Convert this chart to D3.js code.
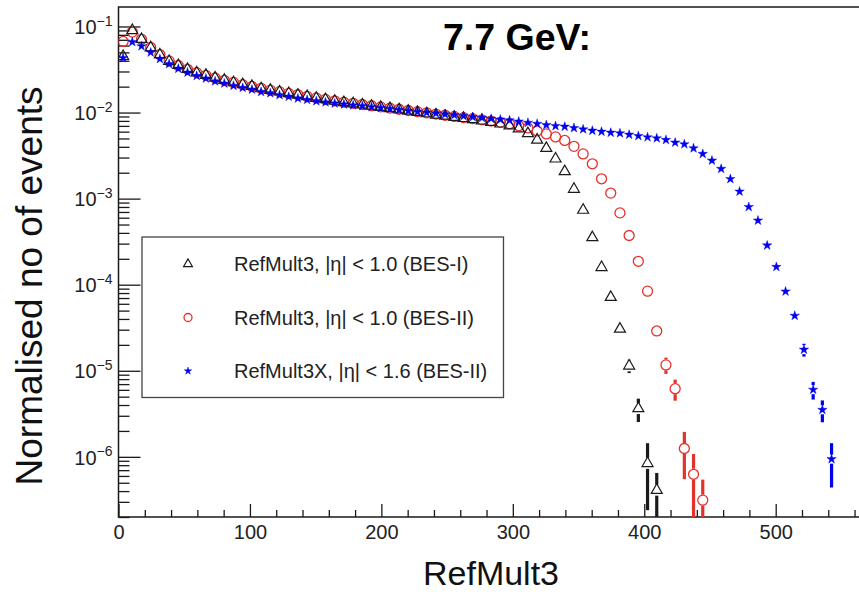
<!DOCTYPE html>
<html>
<head>
<meta charset="utf-8">
<script src="https://cdn.jsdelivr.net/npm/d3@7"></script>
<style>
  body { margin: 0; background: #fff; }
  svg { display: block; font-family: "Liberation Sans", Arial, Helvetica, sans-serif; }
</style>
</head>
<body>
<svg id="chart" width="859" height="592"></svg>
<script>
// RefMult3 distributions at 7.7 GeV, bins of width 7 starting at 0
const binWidth = 7;

// RefMult3, |eta| < 1.0 (BES-I)
const bes1Values = [
  0.045, 0.09, 0.071, 0.0568, 0.047, 0.0394, 0.0354, 0.0319, 0.029, 0.0272,
  0.0253, 0.0238, 0.0223, 0.0212, 0.0202, 0.019, 0.0182, 0.0174, 0.0167, 0.016,
  0.0154, 0.0147, 0.0142, 0.0136, 0.0131, 0.0127, 0.0123, 0.0119, 0.01154, 0.01119,
  0.01081, 0.01044, 0.01008, 0.00973, 0.0094, 0.00911, 0.00883, 0.00857, 0.0083, 0.00802,
  0.00773, 0.0074, 0.00702, 0.00648, 0.00572, 0.00481, 0.00385, 0.0029, 0.00207, 0.00129,
  0.000736, 0.000354, 0.000159, 7.16e-5, 3.06e-5, 1.14e-5, 3.64e-6, 8.4e-7, 4.1e-7
];
// RefMult3, |eta| < 1.0 (BES-II)
const bes2Values = [
  0.067, 0.086, 0.071, 0.057, 0.0472, 0.0398, 0.0352, 0.0318, 0.0291, 0.0271,
  0.0252, 0.0237, 0.0224, 0.0211, 0.0201, 0.0191, 0.0182, 0.0175, 0.0167, 0.0161,
  0.0154, 0.0148, 0.0142, 0.0137, 0.0132, 0.0128, 0.0124, 0.0120, 0.01164, 0.01127,
  0.01092, 0.01057, 0.01024, 0.00992, 0.00961, 0.00931, 0.00901, 0.00875, 0.0085, 0.00823,
  0.00797, 0.0077, 0.00742, 0.00702, 0.00662, 0.00611, 0.00564, 0.00521, 0.00474, 0.00405,
  0.00331, 0.00254, 0.0017, 0.00116, 0.000683, 0.000373, 0.000187, 8.41e-5, 2.9e-5, 1.17e-5,
  6.19e-6, 1.25e-6, 6.27e-7, 3.14e-7
];
// RefMult3X, |eta| < 1.6 (BES-II)
const bes2XValues = [
  0.043, 0.066, 0.059, 0.050, 0.042, 0.0366, 0.0324, 0.0292, 0.0267, 0.0249,
  0.0231, 0.0218, 0.0205, 0.0194, 0.0185, 0.0174, 0.0168, 0.016, 0.0153, 0.0146,
  0.01406, 0.01358, 0.01315, 0.01277, 0.01245, 0.01214, 0.01189, 0.01161, 0.01135, 0.01106,
  0.01076, 0.01049, 0.01021, 0.0100, 0.00979, 0.00955, 0.00935, 0.00912, 0.00888, 0.00869,
  0.00848, 0.0083, 0.00813, 0.00787, 0.00762, 0.0074, 0.00716, 0.00698, 0.00686, 0.00662,
  0.00639, 0.00616, 0.0060, 0.00584, 0.00575, 0.00554, 0.00535, 0.00517, 0.00503, 0.00481,
  0.00448, 0.00429, 0.00385, 0.00331, 0.00277, 0.00222, 0.00169, 0.00121, 0.0008, 0.000557,
  0.000286, 0.000161, 8.35e-5, 4.36e-5, 1.76e-5, 6.03e-6, 3.52e-6, 9.4e-7
];

// statistical errors of the low-count tail bins: [bin index, error]
const bes1Errors = [[54, 2.5e-6], [55, 2e-6], [56, 1.1e-6], [57, 6e-7], [58, 2.4e-7]];
const bes2Errors = [[59, 2.5e-6], [60, 1.7e-6], [61, 7e-7], [62, 4.5e-7], [63, 2.3e-7]];
const bes2XErrors = [[74, 3e-6], [75, 1.4e-6], [76, 1.0e-6], [77, 5e-7]];

const seriesNames = [
  "RefMult3, |\u03b7| < 1.0 (BES-I)",
  "RefMult3, |\u03b7| < 1.0 (BES-II)",
  "RefMult3X, |\u03b7| < 1.6 (BES-II)"
];
const xTickValues = [0, 100, 200, 300, 400, 500, 600];
const yTickExponents = [-6, -5, -4, -3, -2, -1];
const titleText = "7.7 GeV:";
const xTitle = "RefMult3";
const yTitle = "Normalised no of events";

const svg = d3.select("#chart");
const W = 859, H = 592;
const frame = { left: 118.5, top: 7, bottom: 517 };

const x = d3.scaleLinear().domain([0, 600]).range([frame.left, frame.left + 600 * 1.3144]);
const y = d3.scaleLog().domain([2.0e-7, 0.1684]).range([frame.bottom, frame.top]);

svg.append("rect").attr("width", W).attr("height", H).attr("fill", "#fff");

svg.append("defs").append("clipPath").attr("id", "plotClip")
  .append("rect")
  .attr("x", frame.left).attr("y", frame.top)
  .attr("width", W - frame.left).attr("height", frame.bottom - frame.top);

// ---- axes ----
const axisColor = "#1a1a1a";
const labelColor = "#222";

// x major ticks with labels
const gx = svg.append("g").attr("transform", `translate(0,${frame.bottom})`)
  .call(d3.axisBottom(x).tickValues(xTickValues).tickSize(-13).tickPadding(8).tickFormat(d3.format("d")));
// x minor ticks every 20
const xMinor = d3.range(20, 600, 20).filter(v => v % 100 !== 0);
const gxm = svg.append("g").attr("transform", `translate(0,${frame.bottom})`)
  .call(d3.axisBottom(x).tickValues(xMinor).tickSize(-7).tickFormat(""));

// y major ticks at decades
const yMajor = yTickExponents.map(e => Math.pow(10, e));
const gy = svg.append("g").attr("transform", `translate(${frame.left},0)`)
  .call(d3.axisLeft(y).tickValues(yMajor).tickSize(-22).tickPadding(6));
gy.selectAll(".tick text").each(function (d) {
  const t = d3.select(this);
  const e = Math.round(Math.log10(d));
  t.text(null).attr("dy", "0.36em");
  t.append("tspan").text("10");
  t.append("tspan").attr("dy", "-0.62em").attr("font-size", "14px").text("\u2212" + (-e));
});
// y minor ticks 2..9 x 10^n
const yMinor = [];
for (let e = -7; e <= -1; e++) {
  for (let m = 2; m <= 9; m++) {
    const v = m * Math.pow(10, e);
    if (v >= y.domain()[0] && v <= y.domain()[1]) yMinor.push(v);
  }
}
const gym = svg.append("g").attr("transform", `translate(${frame.left},0)`)
  .call(d3.axisLeft(y).tickValues(yMinor).tickSize(-11).tickFormat(""));

[gx, gxm, gy, gym].forEach(g => {
  g.select(".domain").remove();
  g.selectAll(".tick line").attr("stroke", axisColor).attr("stroke-width", 1.3);
  g.selectAll(".tick").filter(function () {
    const tr = this.getAttribute("transform");
    const m = /translate\(([-\d.e]+),([-\d.e]+)\)/.exec(tr);
    return m && (+m[1] > W + 1);
  }).remove();
});
[gx, gy].forEach(g => {
  g.attr("font-family", null).attr("font-size", null);
  g.selectAll(".tick text").attr("fill", labelColor).style("font-size", "20px")
    .style("font-family", '"Liberation Sans", Arial, sans-serif');
});

// frame lines (right side lies beyond the canvas)
svg.append("path")
  .attr("d", `M${W + 2},${frame.top}H${frame.left}V${frame.bottom}H${W + 2}`)
  .attr("fill", "none").attr("stroke", axisColor).attr("stroke-width", 1.5);

// ---- markers ----
const triPath = (s) => {
  const h = s * Math.sqrt(3) / 2;
  return `M0,${-2 * h / 3}L${-s / 2},${h / 3}L${s / 2},${h / 3}Z`;
};
const starGen = (size) => d3.symbol(d3.symbolStar, size)();

const series = [
  { name: seriesNames[1], values: bes2Values, errors: bes2Errors, color: "#e5312c", kind: "circle", gap: 5.5 },
  { name: seriesNames[0], values: bes1Values, errors: bes1Errors, color: "#1a1a1a", kind: "triangle", gap: 5.5 },
  { name: seriesNames[2], values: bes2XValues, errors: bes2XErrors, color: "#0000ee", kind: "star", gap: 4.5 }
];

const plotG = svg.append("g").attr("clip-path", "url(#plotClip)");
const binCenter = (k) => binWidth * (k + 0.5);

function drawMarker(g, kind, color, scale) {
  if (kind === "circle") {
    return g.append("circle").attr("r", 5 * scale).attr("fill", "none")
      .attr("stroke", color).attr("stroke-width", 1.3);
  } else if (kind === "triangle") {
    return g.append("path").attr("d", triPath(11 * scale)).attr("fill", "none")
      .attr("stroke", color).attr("stroke-width", 1.2).attr("stroke-linejoin", "miter");
  } else {
    return g.append("path").attr("d", starGen(28 * scale * scale)).attr("fill", color)
      .attr("stroke", color).attr("stroke-width", 0.4);
  }
}

series.forEach(s => {
  const g = plotG.append("g");
  // error bars, leaving a gap where the marker sits
  s.errors.forEach(([k, err]) => {
    const v = s.values[k];
    const cx = x(binCenter(k));
    const yTop = y(v + err);
    const yBot = y(Math.max(v - err, y.domain()[0]));
    const yc = y(v);
    const segs = [[yTop, yc - s.gap], [yc + s.gap, yBot]];
    segs.forEach(([a, b]) => {
      if (b - a > 0.5) {
        g.append("line").attr("x1", cx).attr("x2", cx).attr("y1", a).attr("y2", b)
          .attr("stroke", s.color).attr("stroke-width", 3.2);
      }
    });
  });
  s.values.forEach((v, k) => {
    const m = drawMarker(g, s.kind, s.color, 1);
    m.attr("transform", `translate(${x(binCenter(k))},${y(v)})`);
  });
});

// ---- legend ----
const legend = svg.append("g");
legend.append("rect")
  .attr("x", 142).attr("y", 237).attr("width", 361.5).attr("height", 160.5)
  .attr("fill", "#fff").attr("stroke", "#444").attr("stroke-width", 1.3);
const legendRows = [
  { s: series[1], yy: 264 },
  { s: series[0], yy: 317.5 },
  { s: series[2], yy: 371 }
];
legendRows.forEach(r => {
  const m = drawMarker(legend, r.s.kind, r.s.color, 0.8);
  m.attr("transform", `translate(188,${r.yy})`);
  legend.append("text").attr("x", 234).attr("y", r.yy).attr("dy", "0.35em")
    .attr("font-size", 20).attr("fill", labelColor).text(r.s.name);
});

// ---- titles ----
svg.append("text").attr("x", 443).attr("y", 50)
  .attr("font-size", 37.5).attr("font-weight", "bold").attr("fill", "#000").text(titleText);

svg.append("text").attr("x", 491).attr("y", 585).attr("text-anchor", "middle")
  .attr("font-size", 34).attr("fill", "#111").text(xTitle);

svg.append("text").attr("transform", "translate(42,286) rotate(-90)")
  .attr("text-anchor", "middle").attr("font-size", 37).attr("fill", "#111").text(yTitle);
</script>
</body>
</html>
